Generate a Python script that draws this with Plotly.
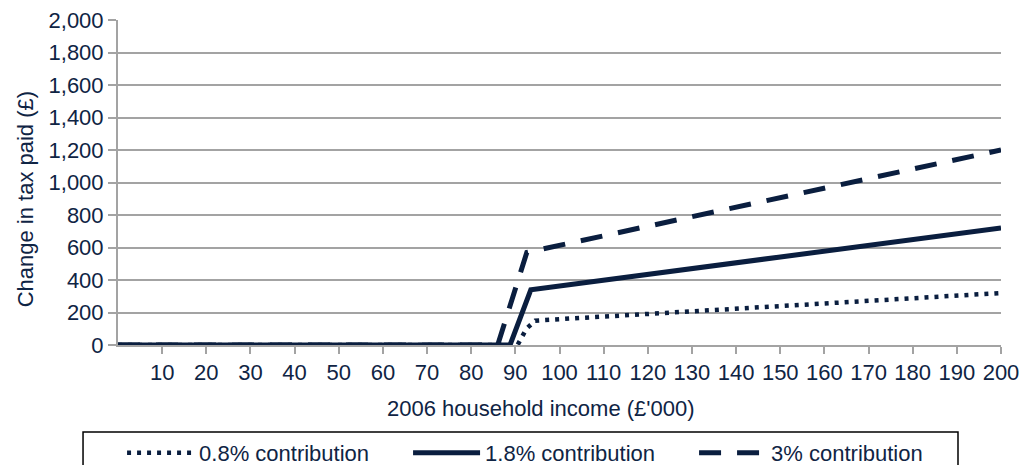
import plotly.graph_objects as go

# ── Data ─────────────────────────────────────────────────────────────────────
x_08 = [0, 90.5, 92.5, 94.5, 200]
y_08 = [0, 0, 100, 150, 320]

x_18 = [0, 88.8, 93.5, 200]
y_18 = [0, 0, 340, 720]

x_30 = [0, 86, 92.6, 200]
y_30 = [0, 0, 570, 1200]

x_ticks = list(range(10, 201, 10))
y_ticks = list(range(0, 2001, 200))

NAVY = "#0a1e3f"
TEXT = "#0f2444"
GRID = "#a3a3a3"
FONT = "Liberation Sans, Arial, sans-serif"

fig = go.Figure()

fig.add_trace(go.Scatter(
    x=x_08, y=y_08, mode="lines", name="0.8% contribution",
    line=dict(color=NAVY, width=4.5, dash="4px,6px"),
))
fig.add_trace(go.Scatter(
    x=x_18, y=y_18, mode="lines", name="1.8% contribution",
    line=dict(color=NAVY, width=5),
))
fig.add_trace(go.Scatter(
    x=x_30, y=y_30, mode="lines", name="3% contribution",
    line=dict(color=NAVY, width=5, dash="22px,16px"),
))

# legend frame (runs off the bottom of the page, as in the source)
fig.add_shape(type="rect", xref="paper", yref="paper",
              x0=-0.0396, x1=0.9513, y0=-0.2677, y1=-0.45,
              line=dict(color="#000000", width=1.5), layer="below")

fig.add_annotation(text="2006 household income (£'000)", xref="paper", yref="paper",
                   x=0.479, y=-0.194, xanchor="center", yanchor="middle",
                   showarrow=False, font=dict(size=22, color=TEXT))
fig.add_annotation(text="Change in tax paid (£)", xref="paper", yref="paper",
                   x=-0.105, y=0.449, xanchor="center", yanchor="middle",
                   textangle=-90, showarrow=False,
                   font=dict(size=22, color=TEXT))

fig.update_layout(
    width=1030, height=465,
    margin=dict(l=118, r=29, t=20, b=120, autoexpand=False),
    paper_bgcolor="white", plot_bgcolor="white",
    font=dict(family=FONT, size=22, color=TEXT),
    legend=dict(
        orientation="h", x=0.0046, xanchor="left", y=-0.2673, yanchor="top",
        bgcolor="rgba(0,0,0,0)", borderwidth=0,
        font=dict(size=22, color=TEXT),
        entrywidth=204, entrywidthmode="pixels",
        itemwidth=67,
    ),
    showlegend=True,
)

fig.update_xaxes(
    range=[0, 200], tickvals=x_ticks, ticktext=[str(v) for v in x_ticks],
    showgrid=False, zeroline=False,
    showline=True, linecolor=GRID, linewidth=2,
    ticks="outside", ticklen=7, tickcolor=GRID, tickwidth=2,
    tickfont=dict(size=22, color=TEXT),
)
fig.update_yaxes(
    range=[0, 2000], tickvals=y_ticks, tickformat=",d",
    showgrid=True, gridcolor=GRID, gridwidth=2, zeroline=False,
    showline=True, linecolor=GRID, linewidth=2,
    ticks="outside", ticklen=8, tickcolor=GRID, tickwidth=2,
    tickfont=dict(size=22, color=TEXT),
)

# drop the browser's default 8px body margin so the figure fills the window
fig.write_html(
    "out.html",
    config={"displayModeBar": False},
    post_script="document.body.style.margin='0';document.body.style.overflow='hidden';",
)
